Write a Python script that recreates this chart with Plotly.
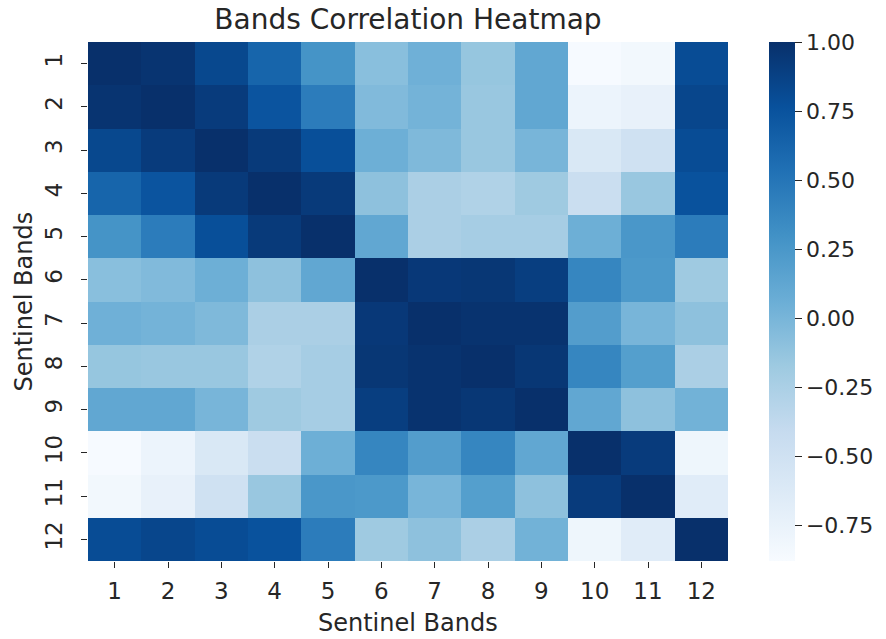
import plotly.graph_objects as go

# Sentinel band labels (1..12)
bands = list(range(1, 13))
band_labels = [str(b) for b in bands]

# Upper-triangle correlation rows (row i holds bands i..12)
row_01 = [1.00, 0.97, 0.83, 0.62, 0.28, -0.08, 0.04, -0.14, 0.12, -0.87, -0.83, 0.80]
row_02 = [1.00, 0.92, 0.74, 0.45, -0.04, 0.02, -0.15, 0.12, -0.78, -0.74, 0.84]
row_03 = [1.00, 0.93, 0.78, 0.05, -0.03, -0.15, 0.00, -0.60, -0.50, 0.80]
row_04 = [1.00, 0.93, -0.10, -0.25, -0.28, -0.18, -0.45, -0.15, 0.76]
row_05 = [1.00, 0.12, -0.25, -0.22, -0.22, 0.05, 0.25, 0.45]
row_06 = [1.00, 0.94, 0.95, 0.90, 0.38, 0.24, -0.18]
row_07 = [1.00, 0.98, 0.98, 0.20, 0.00, -0.10]
row_08 = [1.00, 0.95, 0.38, 0.19, -0.25]
row_09 = [1.00, 0.12, -0.10, 0.03]
row_10 = [1.00, 0.92, -0.80]
row_11 = [1.00, -0.66]
row_12 = [1.00]

upper_rows = [row_01, row_02, row_03, row_04, row_05, row_06,
              row_07, row_08, row_09, row_10, row_11, row_12]

# Build the full symmetric matrix from the upper triangle
n = len(bands)
corr = [[0.0] * n for _ in range(n)]
for i, row in enumerate(upper_rows):
    for k, v in enumerate(row):
        j = i + k
        corr[i][j] = v
        corr[j][i] = v

cbar_ticks = [1.00, 0.75, 0.50, 0.25, 0.00, -0.25, -0.50, -0.75]
# Colorbar labels with a typographic minus
cbar_text = [f"{v:.2f}".replace("-", "\u2212") for v in cbar_ticks]

blues = [
    [0.000, "#f7fbff"], [0.125, "#deebf7"], [0.250, "#c6dbef"],
    [0.375, "#9ecae1"], [0.500, "#6baed6"], [0.625, "#4292c6"],
    [0.750, "#2171b5"], [0.875, "#08519c"], [1.000, "#08306b"],
]

font_family = "DejaVu Sans"
text_color = "#262626"
tick_size = 23
cbar_size = 22
label_size = 24

fig = go.Figure(
    go.Heatmap(
        z=corr,
        x=bands,
        y=bands,
        colorscale=blues,
        zmin=-0.88,
        zmax=1.0,
        hoverongaps=False,
        colorbar=dict(
            thickness=26,
            thicknessmode="pixels",
            len=1.0,
            lenmode="fraction",
            x=1.064,
            xanchor="left",
            xpad=0,
            ypad=0,
            y=0.5,
            yanchor="middle",
            outlinewidth=0,
            tickvals=cbar_ticks,
            ticktext=cbar_text,
            ticks="outside",
            ticklen=7,
            tickwidth=1.2,
            tickcolor=text_color,
            tickfont=dict(family=font_family, size=cbar_size, color=text_color),
        ),
    )
)

axis_title_font = dict(family=font_family, size=label_size, color=text_color)

fig.update_layout(
    width=886,
    height=639,
    margin=dict(l=88, r=158, t=42, b=78),
    paper_bgcolor="white",
    plot_bgcolor="white",
    font=dict(family=font_family, color=text_color),
    title=dict(
        text="Bands Correlation Heatmap",
        x=0.5,
        xref="paper",
        xanchor="center",
        y=1 - 19 / 639,
        yref="container",
        yanchor="middle",
        font=dict(family=font_family, size=28, color=text_color),
    ),
    xaxis=dict(
        tickvals=bands,
        ticktext=band_labels,
        range=[0.5, 12.5],
        showgrid=False,
        zeroline=False,
        automargin=False,
        ticks="outside",
        ticklen=6,
        tickwidth=1.2,
        tickcolor=text_color,
        ticklabelstandoff=3,
        tickfont=dict(size=tick_size, color=text_color),
    ),
    yaxis=dict(
        tickvals=bands,
        ticktext=band_labels,
        range=[12.5, 0.5],
        showgrid=False,
        zeroline=False,
        automargin=False,
        ticks="outside",
        ticklen=6,
        tickwidth=1.2,
        tickcolor=text_color,
        tickangle=-90,
        ticklabelstandoff=10,
        tickfont=dict(size=tick_size, color=text_color),
    ),
    annotations=[
        dict(
            text="Sentinel Bands", xref="paper", yref="paper",
            x=0.5, y=0, xanchor="center", yanchor="middle",
            yshift=-62, showarrow=False, font=axis_title_font,
        ),
        dict(
            text="Sentinel Bands", xref="paper", yref="paper",
            x=0, y=0.5, xanchor="center", yanchor="middle",
            xshift=-65, textangle=-90, showarrow=False, font=axis_title_font,
        ),
    ],
)

fig.write_html("out.html")
